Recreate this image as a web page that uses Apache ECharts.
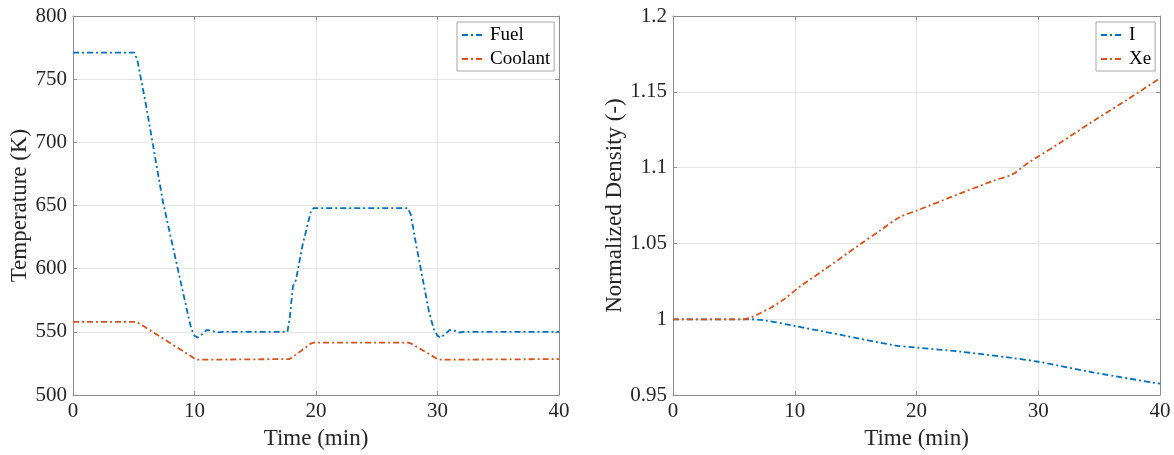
<!DOCTYPE html>
<html><head><meta charset="utf-8">
<script src="https://cdn.jsdelivr.net/npm/echarts@6/dist/echarts.min.js"></script>
<style>html,body{margin:0;padding:0;background:#fff}#c{width:1174px;height:455px}</style>
</head><body><div id="c"></div>
<script>
// ---- Data ----
const xTicks = [0, 10, 20, 30, 40];
const tempTicks = [500, 550, 600, 650, 700, 750, 800];
const densTicks = [0.95, 1, 1.05, 1.1, 1.15, 1.2];

const fuelT = [0, 5.05, 5.3, 6.0, 7.4, 8.9, 9.5, 9.75, 10.0, 10.25, 10.6, 11.0, 11.4, 11.8, 12.3, 17.65, 17.85, 18.1, 18.35, 18.9, 19.6, 19.8, 27.55, 27.8, 28.26, 29.3, 29.7, 30.0, 30.25, 30.6, 31.0, 31.4, 31.7, 32.2, 40];
const fuelV = [771, 771, 765, 730, 653, 588, 562, 552, 547, 545.5, 548, 551.5, 551, 549.5, 550, 550, 562, 586, 591, 619, 646, 648, 648, 643, 618, 566, 552, 547, 545.5, 548, 551.5, 551, 549.5, 550, 550];

const coolT = [0, 5.1, 5.4, 10.0, 10.3, 17.8, 18.0, 19.6, 19.85, 27.6, 27.9, 30.0, 30.3, 40];
const coolV = [558, 558, 557, 529, 528, 528.5, 529.5, 541, 541.5, 541.5, 540.5, 528.5, 528, 528.5];

const iT = [0, 5.75, 7.5, 9.86, 13.97, 18.08, 20.0, 23.56, 27.66, 30.0, 34.5, 40];
const iV = [1, 1, 0.9993, 0.9958, 0.9894, 0.983, 0.9813, 0.9787, 0.9747, 0.972, 0.965, 0.9575];

const xeT = [0, 5.75, 6.4, 7.1, 8.0, 9.0, 10.4, 12.6, 15.3, 17.0, 18.6, 20.0, 23.6, 26.3, 27.9, 29.0, 31.8, 34.5, 37.3, 40];
const xeV = [1, 1, 1.0012, 1.0038, 1.0075, 1.0125, 1.0214, 1.0337, 1.049, 1.0585, 1.0673, 1.0716, 1.083, 1.0913, 1.0957, 1.1022, 1.1164, 1.1306, 1.1448, 1.159];

const zip = (a, b) => a.map((v, i) => [v, b[i]]);

const FONT = 'Liberation Serif';
const BLUE = '#0072BD', ORANGE = '#D95319';
const AXC = '#8c8c8c', GRIDC = '#e6e6e6', TXT = '#262626';
const DASH = [6, 3, 2, 3];

function xAxes(grid) {
  return [
    { type: 'value', gridIndex: grid, min: xTicks[0], max: xTicks[xTicks.length-1], interval: xTicks[1]-xTicks[0],
      name: 'Time (min)', nameLocation: 'middle', nameGap: 27,
      nameTextStyle: { fontFamily: FONT, fontSize: 23, color: TXT },
      axisLine: { show: true, lineStyle: { color: AXC, width: 1 } },
      axisTick: { show: true, inside: true, length: 4, lineStyle: { color: AXC } },
      axisLabel: { fontFamily: FONT, fontSize: 21, color: TXT, margin: 6 },
      splitLine: { show: true, lineStyle: { color: GRIDC, width: 1 } } },
    { type: 'value', gridIndex: grid, position: 'top', min: xTicks[0], max: xTicks[xTicks.length-1], interval: xTicks[1]-xTicks[0],
      axisLine: { show: true, onZero: false, lineStyle: { color: AXC, width: 1 } },
      axisTick: { show: true, inside: true, length: 4, lineStyle: { color: AXC } },
      axisLabel: { show: false }, splitLine: { show: false } }
  ];
}
function yAxes(grid, ticks, name, gap, fmt) {
  const common = { type: 'value', gridIndex: grid, min: ticks[0], max: ticks[ticks.length-1], interval: +(ticks[1]-ticks[0]).toFixed(4) };
  return [
    Object.assign({}, common, {
      name: name, nameLocation: 'middle', nameGap: gap,
      nameTextStyle: { fontFamily: FONT, fontSize: 23, color: TXT },
      axisLine: { show: true, onZero: false, lineStyle: { color: AXC, width: 1 } },
      axisTick: { show: true, inside: true, length: 4, lineStyle: { color: AXC } },
      axisLabel: { fontFamily: FONT, fontSize: 21, color: TXT, margin: 6, formatter: fmt },
      splitLine: { show: true, lineStyle: { color: GRIDC, width: 1 } } }),
    Object.assign({}, common, {
      position: 'right',
      axisLine: { show: true, onZero: false, lineStyle: { color: AXC, width: 1 } },
      axisTick: { show: true, inside: true, length: 4, lineStyle: { color: AXC } },
      axisLabel: { show: false }, splitLine: { show: false } })
  ];
}
function line(name, data, color, xi, yi, smooth) {
  return { name: name, type: 'line', data: data, xAxisIndex: xi, yAxisIndex: yi,
    showSymbol: false, symbol: 'none', smooth: smooth, animation: false,
    lineStyle: { color: color, width: 1.8, type: DASH }, itemStyle: { color: color } };
}
function legend(names, left) {
  return { data: names, orient: 'vertical', left: left, top: 22,
    itemWidth: 23, itemHeight: 14, itemGap: 4, padding: [3, 4, 2, 4],
    itemStyle: { opacity: 0 },
    backgroundColor: '#fff', borderColor: '#a6a6a6', borderWidth: 1, borderRadius: 0,
    textStyle: { fontFamily: FONT, fontSize: 19, color: '#000', lineHeight: 20 } };
}

const chart = echarts.init(document.getElementById('c'), null, { renderer: 'canvas' });
chart.setOption({
  backgroundColor: '#fff',
  animation: false,
  grid: [
    { left: 73, top: 16, width: 486, height: 382 },
    { left: 673, top: 16, width: 487, height: 382 }
  ],
  xAxis: [].concat(xAxes(0), xAxes(1)),
  yAxis: [].concat(
    yAxes(0, tempTicks, 'Temperature (K)', 42, v => String(v)),
    yAxes(1, densTicks, 'Normalized Density (-)', 46, v => String(+v.toFixed(2)))
  ),
  legend: [legend(['Fuel', 'Coolant'], 457), legend(['I', 'Xe'], 1096)],
  series: [
    line('Fuel', zip(fuelT, fuelV), BLUE, 0, 0, false),
    line('Coolant', zip(coolT, coolV), ORANGE, 0, 0, false),
    line('I', zip(iT, iV), BLUE, 2, 2, 0.3),
    line('Xe', zip(xeT, xeV), ORANGE, 2, 2, 0.3)
  ]
});
</script></body></html>
